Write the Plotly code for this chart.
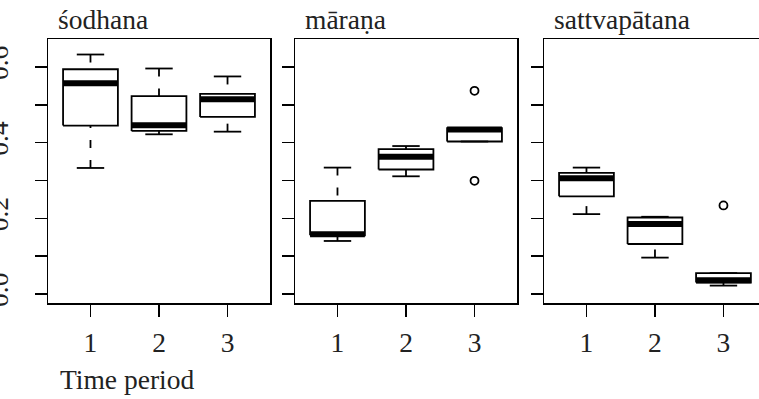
import plotly.graph_objects as go

W, H = 759, 399

# ---------------- data ----------------
periods = [1, 2, 3]
period_labels = ["1", "2", "3"]
panel_titles = ["śodhana", "māraṇa", "sattvapātana"]
y_tick_vals = [0.0, 0.1, 0.2, 0.3, 0.4, 0.5, 0.6]
y_tick_text = ["0.0", "", "0.2", "", "0.4", "", "0.6"]

sodhana_lower = [0.333, 0.422, 0.429]
sodhana_q1 = [0.445, 0.431, 0.468]
sodhana_median = [0.557, 0.446, 0.515]
sodhana_q3 = [0.594, 0.523, 0.529]
sodhana_upper = [0.633, 0.596, 0.575]
sodhana_outliers = [[], [], []]

marana_lower = [0.140, 0.311, 0.403]
marana_q1 = [0.155, 0.329, 0.403]
marana_median = [0.158, 0.363, 0.435]
marana_q3 = [0.246, 0.383, 0.438]
marana_upper = [0.334, 0.391, 0.438]
marana_outliers = [[], [], [0.537, 0.299]]

sattva_lower = [0.211, 0.096, 0.022]
sattva_q1 = [0.258, 0.132, 0.030]
sattva_median = [0.306, 0.185, 0.036]
sattva_q3 = [0.320, 0.202, 0.055]
sattva_upper = [0.334, 0.204, 0.055]
sattva_outliers = [[], [], [0.234]]

panels = [
    (sodhana_lower, sodhana_q1, sodhana_median, sodhana_q3, sodhana_upper, sodhana_outliers),
    (marana_lower, marana_q1, marana_median, marana_q3, marana_upper, marana_outliers),
    (sattva_lower, sattva_q1, sattva_median, sattva_q3, sattva_upper, sattva_outliers),
]

# ---------------- layout geometry ----------------
FONT = "Liberation Serif"
FS = 27.5
TXT = "#222222"
BOXW = 0.4      # half box width
STAPLE = 0.2    # half staple width
LW = 1.8

x_domains_px = [(48, 270), (295, 517), (544, 759)]
x_ranges = [[0.38, 3.62], [0.38, 3.62], [0.38, 0.38 + 215 / 68.5]]
y_top_px, y_bot_px = 39, 303
y_range = [-0.024, 0.674]

fig = go.Figure()

for i, (lo, q1, med, q3, up, outl) in enumerate(panels):
    xa = "x" if i == 0 else f"x{i+1}"
    ya = "y" if i == 0 else f"y{i+1}"
    bx, by = [], []
    wx, wy = [], []
    sx, sy = [], []
    mx, my = [], []
    ox, oy = [], []
    for j, p in enumerate(periods):
        bx += [p - BOXW, p + BOXW, p + BOXW, p - BOXW, p - BOXW, None]
        by += [q1[j], q1[j], q3[j], q3[j], q1[j], None]
        if lo[j] < q1[j]:
            wx += [p, p, None]
            wy += [lo[j], q1[j], None]
        if up[j] > q3[j]:
            wx += [p, p, None]
            wy += [up[j], q3[j], None]
        sx += [p - STAPLE, p + STAPLE, None, p - STAPLE, p + STAPLE, None]
        sy += [lo[j], lo[j], None, up[j], up[j], None]
        mx += [p - BOXW, p + BOXW, None]
        my += [med[j], med[j], None]
        for v in outl[j]:
            ox.append(p)
            oy.append(v)
    common = dict(xaxis=xa, yaxis=ya, showlegend=False, hoverinfo="skip")
    fig.add_trace(go.Scatter(x=wx, y=wy, mode="lines",
                             line=dict(color="black", width=LW, dash="8px,12px"), **common))
    fig.add_trace(go.Scatter(x=bx, y=by, mode="lines",
                             line=dict(color="black", width=LW), **common))
    fig.add_trace(go.Scatter(x=sx, y=sy, mode="lines",
                             line=dict(color="black", width=LW), **common))
    fig.add_trace(go.Scatter(x=mx, y=my, mode="lines",
                             line=dict(color="black", width=6), **common))
    if ox:
        fig.add_trace(go.Scatter(x=ox, y=oy, mode="markers",
                                 marker=dict(symbol="circle-open", size=8, color="black",
                                             line=dict(width=1.8, color="black")), **common))

layout = dict(
    template="none",
    width=W, height=H,
    margin=dict(l=0, r=0, t=0, b=0, autoexpand=False),
    paper_bgcolor="white", plot_bgcolor="white",
    font=dict(family=FONT, size=FS, color=TXT),
    showlegend=False,
    hovermode=False,
)

ydom = [1 - y_bot_px / H, 1 - y_top_px / H]
annotations = []
for i in range(3):
    sfx = "" if i == 0 else str(i + 1)
    d0, d1 = x_domains_px[i]
    layout["xaxis" + sfx] = dict(
        domain=[d0 / W, d1 / W], range=x_ranges[i], anchor="y" + sfx,
        tickmode="array", tickvals=periods, ticktext=period_labels,
        ticks="outside", ticklen=12, tickwidth=1.5, tickcolor="black",
        showline=True, linecolor="black", linewidth=1.5, mirror=True,
        showgrid=False, zeroline=False, ticklabelstandoff=2, automargin=False,
        tickfont=dict(family=FONT, size=FS, color=TXT), fixedrange=True,
    )
    layout["yaxis" + sfx] = dict(
        domain=ydom, range=y_range, anchor="x" + sfx,
        tickmode="array", tickvals=y_tick_vals, ticktext=y_tick_text,
        ticks="outside", ticklen=12, tickwidth=1.5, tickcolor="black",
        showline=True, linecolor="black", linewidth=1.5, mirror=(i < 2),
        showgrid=False, zeroline=False, showticklabels=(i == 0),
        tickangle=-90, ticklabelstandoff=16, automargin=False,
        tickfont=dict(family=FONT, size=FS, color=TXT), fixedrange=True,
    )
    annotations.append(dict(
        text=panel_titles[i], xref="paper", yref="paper",
        x=(d0 + 8) / W, y=1 - 19 / H, xanchor="left", yanchor="middle",
        showarrow=False, font=dict(family=FONT, size=FS, color=TXT),
    ))

annotations.append(dict(
    text="Time period", xref="paper", yref="paper",
    x=58 / W, y=1 - 379 / H, xanchor="left", yanchor="middle",
    showarrow=False, font=dict(family=FONT, size=FS, color=TXT),
))
layout["annotations"] = annotations

fig.update_layout(**layout)
fig.write_html("out.html",
               config={"displayModeBar": False, "staticPlot": True},
               post_script="document.body.style.margin='0px';document.body.style.overflow='hidden';")
